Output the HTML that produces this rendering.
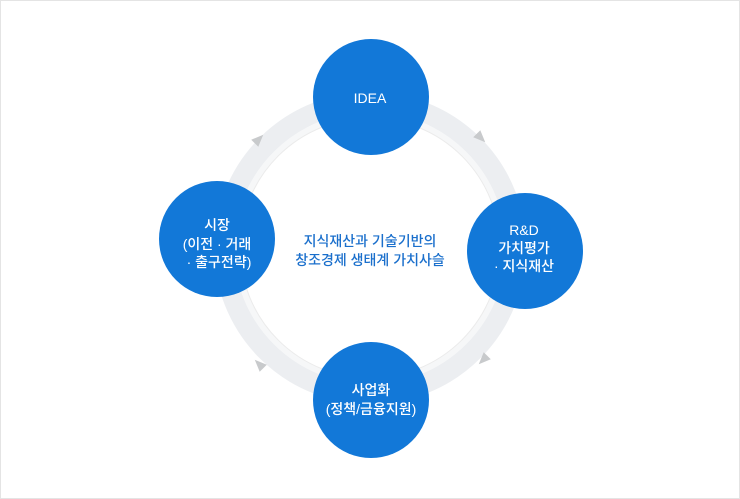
<!DOCTYPE html>
<html><head><meta charset="utf-8"><style>
body{margin:0;width:740px;height:499px;background:#fff;overflow:hidden}
.f{position:absolute;left:0;top:0;width:738px;height:497px;border:1px solid #e4e4e4}
svg{position:absolute;left:0;top:0}
text{font-family:"Liberation Sans","Noto Sans CJK KR",sans-serif}
</style></head><body><div class="f"></div>
<svg width="740" height="499">
<circle cx="370" cy="248" r="146" fill="none" stroke="#eceef1" stroke-width="20"/>
<circle cx="370" cy="248" r="133" fill="none" stroke="#f6f7f8" stroke-width="6"/>
<circle cx="370" cy="248" r="130" fill="none" stroke="#ebebeb" stroke-width="1"/>
<g fill="#c8cacc">
<polygon points="-6,-5 6,0 -6,5" transform="translate(481,138) rotate(45)"/>
<polygon points="-6,-5 6,0 -6,5" transform="translate(483,360) rotate(135)"/>
<polygon points="-6,-5 6,0 -6,5" transform="translate(259,364) rotate(225)"/>
<polygon points="-6,-5 6,0 -6,5" transform="translate(259,139) rotate(315)"/>
</g>
<g fill="#1278d8">
<circle cx="371" cy="97" r="58"/>
<circle cx="525" cy="251" r="58"/>
<circle cx="371" cy="400" r="58"/>
<circle cx="217" cy="239" r="58"/>
</g>
<g fill="#fff" font-size="14" text-anchor="middle" font-weight="500">
<text x="370" y="103">IDEA</text>
<text x="524" y="235">R&amp;D</text>
<text x="524" y="253">가치평가</text>
<text x="524" y="271">· 지식재산</text>
<text x="371" y="395">사업화</text>
<text x="371" y="414">(정책/금융지원)</text>
<text x="217" y="230">시장</text>
<text x="217" y="249">(이전 · 거래</text>
<text x="219" y="267">· 출구전략)</text>
</g>
<g fill="#1a6fcc" font-size="14" text-anchor="middle" font-weight="500">
<text x="370" y="246">지식재산과 기술기반의</text>
<text x="370" y="265">창조경제 생태계 가치사슬</text>
</g>
</svg></body></html>
